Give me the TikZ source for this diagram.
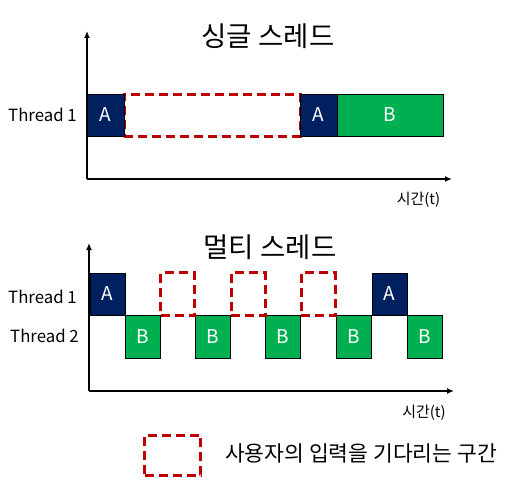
\documentclass[tikz,border=0pt]{standalone}
\usepackage{fontspec}
\setmainfont{Noto Sans CJK KR}
\usetikzlibrary{arrows.meta}
\definecolor{navyA}{HTML}{002060}
\definecolor{greenB}{HTML}{00B050}
\definecolor{waitred}{HTML}{C00000}

\begin{document}
\begin{tikzpicture}[x=1pt,y=-1pt,
	taskbox/.style={draw=black, line width=.6pt, inner sep=0pt, text=white,
		font=\fontsize{19}{19}\selectfont},
	aboxA/.style={taskbox, fill=navyA},
	aboxB/.style={taskbox, fill=greenB},
	waitbox/.style={draw=waitred, line width=3pt, dash pattern=on 9pt off 5pt, inner sep=0pt},
	axis/.style={line width=1.6pt, -{Latex[length=7pt,width=6pt]}},
	lbl/.style={font=\fontsize{16.8}{17}\selectfont, inner sep=0pt},
	tlbl/.style={font=\fontsize{15}{15}\selectfont, inner sep=0pt},
	ttl/.style={font=\fontsize{27.5}{28}\selectfont, inner sep=0pt}]
	\useasboundingbox (0,0) rectangle (511,484);
	
	% single thread chart
	\coordinate (o1) at (87,179);
	\coordinate (y1) at (87,31);
	\coordinate (x1) at (452,179);
	\draw[axis] (o1) -- (y1);
	\draw[axis] (o1) -- (x1);
	\node[ttl] (title1) at (268,36) {싱글 스레드};
	\node[lbl, anchor=east] (th1a) at (77,115) {Thread 1};
	\node[tlbl] (time1) at (418.5,200) {시간(t)};
	
	% draw boxes
	\node[waitbox, minimum width=176pt, minimum height=42pt] (w1) at (212,115.5) {};
	\node[aboxA, minimum width=37pt, minimum height=42pt] (a1) at (105.5,115) {A};
	\node[aboxA, minimum width=37pt, minimum height=42pt] (a2) at (318.5,115) {A};
	\node[aboxB, minimum width=106pt, minimum height=42pt] (b1) at (390,115) {B};
	
	% multi thread chart
	\coordinate (o2) at (89,391);
	\coordinate (y2) at (89,243);
	\coordinate (x2) at (454,391);
	\draw[axis] (o2) -- (y2);
	\draw[axis] (o2) -- (x2);
	\node[ttl] (title2) at (270,247) {멀티 스레드};
	\node[lbl, anchor=east] (th2a) at (77,297) {Thread 1};
	\node[lbl, anchor=east] (th2b) at (79,336) {Thread 2};
	\node[tlbl] (time2) at (424,413) {시간(t)};
	
	% draw boxes
	\foreach \i/\x in {1/142.5,2/212.5,3/282.5,4/353.5,5/425} {
		\node[aboxB, minimum width=35pt, minimum height=43pt] (bb\i) at (\x,336.5) {B};
	}
	\foreach \i/\x in {1/177.5,2/248,3/318} {
		\node[waitbox, minimum width=34pt, minimum height=43pt] (ww\i) at (\x,294) {};
	}
	\node[aboxA, minimum width=35pt, minimum height=42pt] (aa1) at (107.5,294) {A};
	\node[aboxA, minimum width=35pt, minimum height=42pt] (aa2) at (389.5,294) {A};
	
	% legend
	\node[waitbox, minimum width=56pt, minimum height=40pt] (key) at (172.5,455) {};
	\node[lbl, anchor=west, font=\fontsize{21.5}{22}\selectfont] (keytext) at (225,453) {사용자의 입력을 기다리는 구간};
\end{tikzpicture}
\end{document}
